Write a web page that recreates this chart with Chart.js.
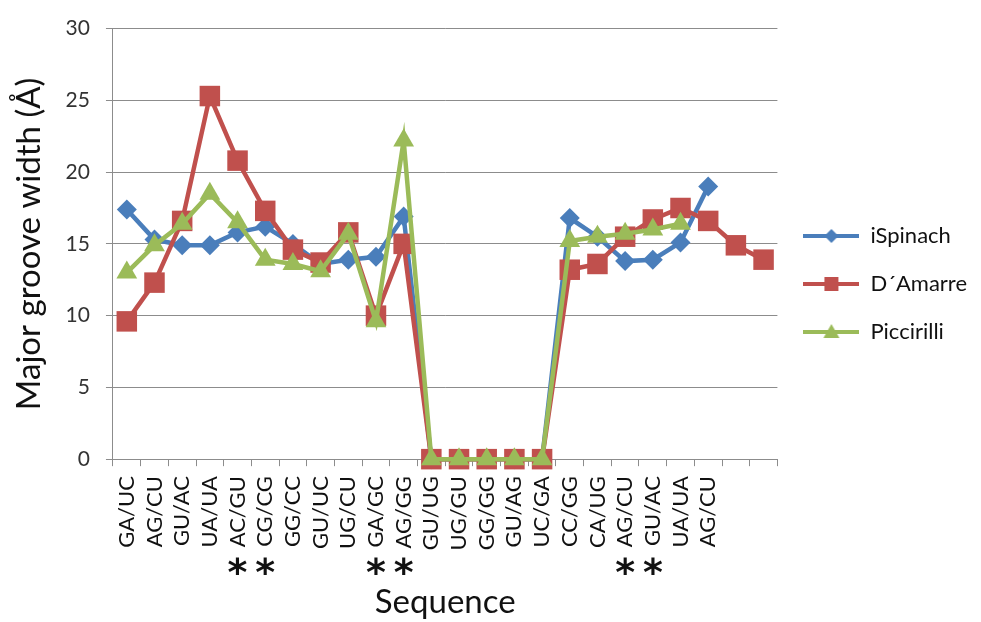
<!DOCTYPE html>
<html>
  <head>
    <meta charset="UTF-8" />
    <title>Major groove width</title>
    <style>
      html, body { margin: 0; padding: 0; background: #fff; }
      #wrap { position: relative; width: 981px; height: 622px; }
    </style>
  </head>
  <body>
    <div id="wrap"><canvas id="grooveChart"></canvas></div>
    <script src="https://cdn.jsdelivr.net/npm/chart.js@4.4.0/dist/chart.umd.min.js"></script>
    <script>
      // categories (last two slots are empty in the original)
      const sequences = [
        "GA/UC", "AG/CU", "GU/AC", "UA/UA", "AC/GU", "CG/CG", "GG/CC", "GU/UC",
        "UG/CU", "GA/GC", "AG/GG", "GU/UG", "UG/GU", "GG/GG", "GU/AG", "UC/GA",
        "CC/GG", "CA/UG", "AG/CU", "GU/AC", "UA/UA", "AG/CU", "", ""
      ];
      // indices marked with an asterisk under the label
      const starred = [4, 5, 9, 10, 18, 19];

      const iSpinach = [
        17.4, 15.3, 14.9, 14.9, 15.8, 16.2, 15.0, 13.6, 13.9, 14.1, 16.9,
        0, 0, 0, 0, 0,
        16.8, 15.5, 13.8, 13.9, 15.1, 19.0, null, null
      ];
      const dAmarre = [
        9.6, 12.3, 16.6, 25.3, 20.8, 17.3, 14.6, 13.7, 15.8, 10.0, 15.0,
        0, 0, 0, 0, 0,
        13.2, 13.6, 15.5, 16.7, 17.5, 16.6, 14.9, 13.9
      ];
      const piccirilli = [
        13.0, 14.9, 16.4, 18.5, 16.5, 13.9, 13.6, 13.1, 15.7, 9.6, 22.2,
        0, 0, 0, 0, 0,
        15.2, 15.5, 15.7, 16.0, 16.4, null, null, null
      ];
      const yTicks = [0, 5, 10, 15, 20, 25, 30];

      const FONT = "Lato, 'Open Sans', sans-serif";

      // little line + marker picture for the legend, Excel style
      function legendIcon(color, shape) {
        const c = document.createElement("canvas");
        c.width = 56;
        c.height = 18;
        const g = c.getContext("2d");
        g.strokeStyle = color;
        g.lineWidth = 4;
        g.beginPath();
        g.moveTo(0, 9);
        g.lineTo(56, 9);
        g.stroke();
        g.fillStyle = color;
        g.beginPath();
        if (shape === "rectRot") {
          g.moveTo(28, 2); g.lineTo(35, 9); g.lineTo(28, 16); g.lineTo(21, 9);
        } else if (shape === "rect") {
          g.rect(21, 2, 14, 14);
        } else {
          g.moveTo(28, 1); g.lineTo(36, 15); g.lineTo(20, 15);
        }
        g.closePath();
        g.fill();
        return c;
      }

      const starPlugin = {
        id: "stars",
        afterDraw(chart) {
          const xs = chart.scales.x;
          const ctx = chart.ctx;
          ctx.save();
          ctx.fillStyle = "#111";
          ctx.font = "bold 38px 'DejaVu Sans'";
          ctx.textAlign = "center";
          ctx.textBaseline = "middle";
          starred.forEach((i) => {
            ctx.fillText("*", xs.getPixelForValue(i), xs.top + 116);
          });
          ctx.restore();
        }
      };

      const data = {
        labels: sequences,
        datasets: [
          {
            label: "iSpinach",
            data: iSpinach,
            borderColor: "#4A7EBB",
            backgroundColor: "#4A7EBB",
            pointStyle: "rectRot",
            pointRadius: 10,
            clip: false,
            order: 3
          },
          {
            label: "D´Amarre",
            data: dAmarre,
            borderColor: "#C0504D",
            backgroundColor: "#C0504D",
            pointStyle: "rect",
            pointRadius: 14.5,
            clip: false,
            order: 2
          },
          {
            label: "Piccirilli",
            data: piccirilli,
            borderColor: "#9BBB59",
            backgroundColor: "#9BBB59",
            pointStyle: "triangle",
            pointRadius: 12,
            clip: false,
            order: 1
          }
        ]
      };

      const config = {
        type: "line",
        data: data,
        options: {
          responsive: true,
          maintainAspectRatio: false,
          animation: false,
          layout: { padding: { top: 27, right: 4, left: 10, bottom: 0 } },
          elements: {
            line: { borderWidth: 4.5, tension: 0 },
            point: { borderWidth: 0, hoverRadius: 10 }
          },
          scales: {
            x: {
              offset: true,
              grid: {
                offset: true,
                drawOnChartArea: false,
                tickLength: 7,
                color: "#8c8c8c"
              },
              border: { color: "#8c8c8c", width: 1 },
              ticks: {
                autoSkip: false,
                maxRotation: 90,
                minRotation: 90,
                padding: 10,
                color: "#111",
                font: { family: FONT, size: 22 }
              },
              title: {
                display: true,
                text: "Sequence",
                color: "#111",
                font: { family: FONT, size: 33 },
                padding: { top: 22, bottom: 0 }
              }
            },
            y: {
              min: 0,
              max: 30,
              afterBuildTicks: (axis) => {
                axis.ticks = yTicks.map((v) => ({ value: v }));
              },
              grid: { color: "#8c8c8c", tickLength: 7 },
              border: { color: "#8c8c8c", width: 1 },
              ticks: {
                color: "#333",
                padding: 16,
                font: { family: FONT, size: 21 }
              },
              title: {
                display: true,
                text: "Major groove width (Å)",
                color: "#111",
                font: { family: FONT, size: 33 },
                padding: { top: 0, bottom: 0 }
              }
            }
          },
          plugins: {
            tooltip: { enabled: false },
            legend: {
              position: "right",
              align: "start",
              title: {
                display: true,
                text: " ",
                font: { size: 10 },
                padding: { top: 160, bottom: 0 }
              },
              labels: {
                usePointStyle: true,
                pointStyleWidth: 56,
                padding: 26,
                color: "#111",
                font: { family: FONT, size: 22 },
                generateLabels(chart) {
                  const items = Chart.defaults.plugins.legend.labels.generateLabels(chart);
                  items.forEach((it) => {
                    const ds = chart.data.datasets[it.datasetIndex];
                    it.pointStyle = legendIcon(ds.borderColor, ds.pointStyle);
                  });
                  return items.sort((a, b) => a.datasetIndex - b.datasetIndex);
                }
              }
            }
          }
        },
        plugins: [starPlugin]
      };

      new Chart(document.getElementById("grooveChart"), config);
    </script>
  </body>
</html>
